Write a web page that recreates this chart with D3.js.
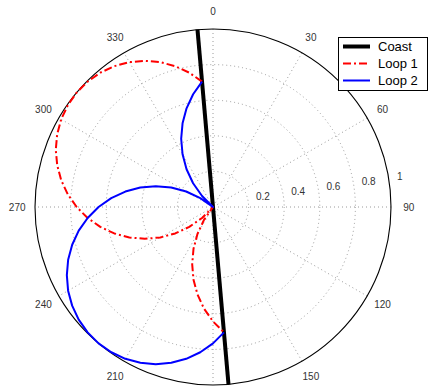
<!DOCTYPE html>
<html>
<head>
<meta charset="utf-8">
<script src="https://cdn.jsdelivr.net/npm/d3@7"></script>
<style>
  html, body { margin: 0; padding: 0; background: #fff; }
  svg { display: block; font-family: "Liberation Sans", Arial, Helvetica, sans-serif; }
</style>
</head>
<body>
<svg id="chart" width="429" height="389"></svg>
<script>
// Bearings in degrees, clockwise from north
const bearings = [355, 350, 345, 340, 335, 330, 325, 320, 315, 310, 305, 300, 295, 290, 285, 280,
  275, 270, 265, 260, 255, 250, 245, 240, 235, 230, 225, 220, 215, 210, 205, 200, 195, 190, 185, 180, 175];

// Relative response of each loop at those bearings
const loop1 = [0.707, 0.766, 0.819, 0.866, 0.906, 0.940, 0.966, 0.985, 0.996, 1.000, 0.996, 0.985, 0.966, 0.940, 0.906, 0.866,
  0.819, 0.766, 0.707, 0.643, 0.574, 0.500, 0.423, 0.342, 0.259, 0.174, 0.087, 0.000, 0.087, 0.174, 0.259, 0.342, 0.423, 0.500, 0.574, 0.643, 0.707];
const loop2 = [0.707, 0.643, 0.574, 0.500, 0.423, 0.342, 0.259, 0.174, 0.087, 0.000, 0.087, 0.174, 0.259, 0.342, 0.423, 0.500,
  0.574, 0.643, 0.707, 0.766, 0.819, 0.866, 0.906, 0.940, 0.966, 0.985, 0.996, 1.000, 0.996, 0.985, 0.966, 0.940, 0.906, 0.866, 0.819, 0.766, 0.707];

// Coastline through the station
const coastBearings = [355, 175];
const coastR = [1, 1];

// Grid ticks
const spokeAngles = [0, 30, 60, 90, 120, 150];
const angleLabels = [0, 30, 60, 90, 120, 150, 210, 240, 270, 300, 330];
const ringTicks = [0.2, 0.4, 0.6, 0.8, 1];
const ringLabels = ["0.2", "0.4", "0.6", "0.8", "1"];

const seriesNames = ["Coast", "Loop 1", "Loop 2"];

const cx = 213, cy = 207, R = 178;
const svg = d3.select("#chart");
const r = d3.scaleLinear().domain([0, 1]).range([0, R]);
const ang = d3.scaleLinear().domain([0, 360]).range([0, 2 * Math.PI]);

const g = svg.append("g").attr("transform", `translate(${cx},${cy})`);

// screen position for a bearing and radius
const px = (deg, rv) => r(rv) * Math.sin(ang(deg));
const py = (deg, rv) => -r(rv) * Math.cos(ang(deg));

const gridColor = "#9a9a9a";
// dotted spokes (full diameters)
g.selectAll("line.spoke").data(spokeAngles).enter().append("line")
  .attr("x1", d => px(d, 1)).attr("y1", d => py(d, 1))
  .attr("x2", d => px(d + 180, 1)).attr("y2", d => py(d + 180, 1))
  .attr("stroke", gridColor).attr("stroke-width", 1).attr("stroke-dasharray", "1,3");

// dotted rings
g.selectAll("circle.ring").data(ringTicks.slice(0, -1)).enter().append("circle")
  .attr("r", d => r(d)).attr("fill", "none")
  .attr("stroke", gridColor).attr("stroke-width", 1).attr("stroke-dasharray", "1,3");

// solid outer circle
g.append("circle").attr("r", r(1)).attr("fill", "none").attr("stroke", "#000").attr("stroke-width", 1.1);

// bearing labels
g.selectAll("text.ang").data(angleLabels).enter().append("text")
  .attr("x", d => px(d, 1.1)).attr("y", d => py(d, 1.1))
  .attr("text-anchor", "middle").attr("dy", "0.35em")
  .attr("font-size", 10).attr("fill", "#333")
  .text(d => d);

// ring labels along 82 degrees
g.selectAll("text.ring").data(ringTicks).enter().append("text")
  .attr("x", (d) => px(82, d + 0.01) + 6).attr("y", (d) => py(82, d + 0.01) - 2)
  .attr("font-size", 10).attr("fill", "#333")
  .text((d, i) => ringLabels[i]);

const radial = d3.lineRadial().angle(d => ang(d[0])).radius(d => r(d[1]));

const coastData = coastBearings.map((b, i) => [b, coastR[i]]);
const loop1Data = bearings.map((b, i) => [b, loop1[i]]);
const loop2Data = bearings.map((b, i) => [b, loop2[i]]);

const styles = [
  { color: "#000", width: 4, dash: null },
  { color: "#ff0000", width: 2, dash: "8,3,2,3" },
  { color: "#0000ff", width: 2, dash: null }
];
[coastData, loop1Data, loop2Data].forEach((data, i) => {
  g.append("path").attr("d", radial(data)).attr("fill", "none")
    .attr("stroke", styles[i].color).attr("stroke-width", styles[i].width)
    .attr("stroke-linejoin", "round")
    .attr("stroke-dasharray", styles[i].dash);
});

// legend
const lg = svg.append("g").attr("transform", "translate(338.5,37.5)");
lg.append("rect").attr("width", 89).attr("height", 53).attr("fill", "#fff").attr("stroke", "#000").attr("stroke-width", 1);
seriesNames.forEach((name, i) => {
  const y = 9 + i * 17;
  lg.append("line").attr("x1", 4.5).attr("x2", 31.5).attr("y1", y).attr("y2", y)
    .attr("stroke", styles[i].color).attr("stroke-width", i === 0 ? 4 : 2)
    .attr("stroke-dasharray", styles[i].dash);
  lg.append("text").attr("x", 39.5).attr("y", y).attr("dy", "0.35em")
    .attr("font-size", 13).attr("fill", "#000").text(name);
});
</script>
</body>
</html>
